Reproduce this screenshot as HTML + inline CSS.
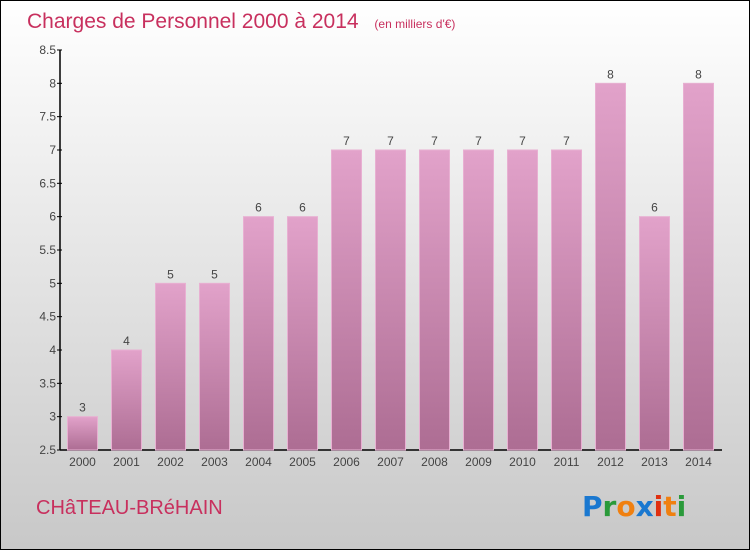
<!DOCTYPE html>
<html><head><meta charset="utf-8"><style>
html,body{margin:0;padding:0}
body{width:750px;height:550px;overflow:hidden;font-family:"Liberation Sans",sans-serif}
</style></head><body>
<svg width="750" height="550" xmlns="http://www.w3.org/2000/svg" font-family="Liberation Sans, sans-serif">
<defs>
<linearGradient id="bg" x1="0" y1="0" x2="0" y2="1"><stop offset="0" stop-color="#ffffff"/><stop offset="1" stop-color="#c8c8c8"/></linearGradient>
<linearGradient id="bar" x1="0" y1="0" x2="0" y2="1"><stop offset="0" stop-color="#e2a2ca"/><stop offset="1" stop-color="#ad6d93"/></linearGradient>
</defs>
<rect x="0.5" y="0.5" width="749" height="549" fill="url(#bg)" stroke="#000"/>
<text x="27" y="28" font-size="21" fill="#c8305e">Charges de Personnel 2000 à 2014 <tspan font-size="12" dx="10">(en milliers d'€)</tspan></text>
<g id="axes"></g>
<g id="bars"></g>
<text x="36" y="514" font-size="20" fill="#c8305e">CHâTEAU-BRéHAIN</text>
<g font-size="28" font-weight="bold" font-family="DejaVu Sans, sans-serif">
<text x="582" y="516"><tspan fill="#1a78d0">P</tspan><tspan fill="#2a9a3a">r</tspan><tspan fill="#f08010">o</tspan><tspan fill="#1a78d0">x</tspan><tspan fill="#e03010">i</tspan><tspan fill="#f08010">t</tspan><tspan fill="#2a9a3a">i</tspan></text>
</g>
</svg>
<script>
const years=["2000","2001","2002","2003","2004","2005","2006","2007","2008","2009","2010","2011","2012","2013","2014"];
const values=[3,4,5,5,6,6,7,7,7,7,7,7,8,6,8];
const ticks=[2.5,3,3.5,4,4.5,5,5.5,6,6.5,7,7.5,8,8.5];
const NS="http://www.w3.org/2000/svg";
const y=v=>450-(v-2.5)*66.67;
const x=i=>82.5+i*44;
function mk(t,a,p){const e=document.createElementNS(NS,t);for(const k in a)e.setAttribute(k,a[k]);p.appendChild(e);return e;}
const ax=document.getElementById('axes'),bg=document.getElementById('bars');
const yl=mk('line',{x1:60,y1:50,x2:60,y2:450,stroke:'#000','stroke-width':1.5},ax);


const xl=mk('line',{x1:60,y1:450,x2:722,y2:450,stroke:'#000','stroke-width':1.5},ax);


ticks.forEach(t=>{
 mk('line',{x1:57,y1:y(t),x2:62,y2:y(t),stroke:'#000'},ax);
 const tx=mk('text',{x:56,y:y(t)+4,'text-anchor':'end','font-size':12,fill:'#444'},ax);
 tx.textContent=String(t);
 
 
});
years.forEach((yr,i)=>{
 const r=mk('rect',{x:x(i)-15,y:y(values[i]),width:30,height:450-y(values[i]),fill:'url(#bar)',stroke:'#e8b0d2','stroke-width':1},bg);
 
 
 const v=mk('text',{x:x(i),y:y(values[i])-5,'text-anchor':'middle','font-size':12,fill:'#444'},bg);
 v.textContent=values[i];
 
 
 const l=mk('text',{x:x(i),y:466,'text-anchor':'middle','font-size':12,fill:'#444'},ax);
 l.textContent=yr;
 
 
});
</script>
</body></html>
